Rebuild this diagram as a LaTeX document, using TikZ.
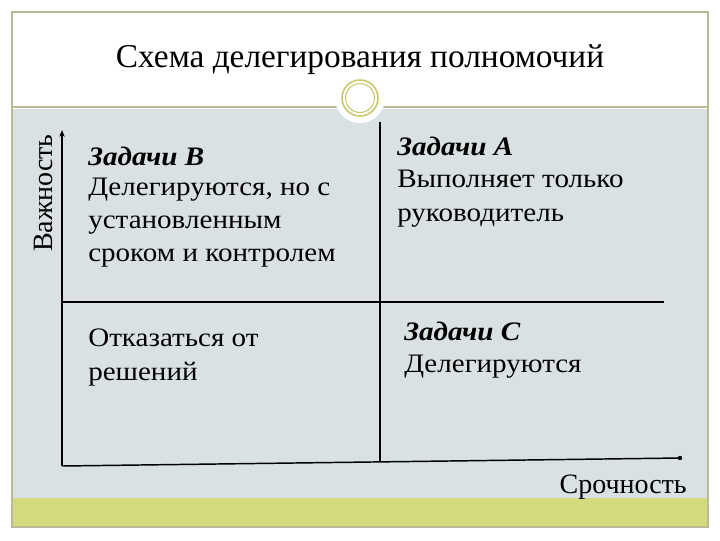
\documentclass[tikz,border=0pt]{standalone}
\usepackage{fontspec}
\usetikzlibrary{arrows.meta}
\setmainfont{Liberation Serif}
\newfontfamily\widefont[FakeStretch=1.09]{Liberation Serif}
\definecolor{bodybg}{HTML}{D9E1E3}
\definecolor{bandgreen}{HTML}{D4DB7E}
\definecolor{framecol}{HTML}{B9BA98}
\definecolor{ringcol}{HTML}{C9C86E}
\tikzset{
  body/.style={font=\widefont\fontsize{20}{25}\selectfont, anchor=north west, align=left, inner sep=0pt},
  axis/.style={line width=1.1pt, black},
  divider/.style={line width=0.8pt, black},
  axlabel/.style={font=\fontsize{21}{24}\selectfont, inner sep=0pt},
}
\begin{document}
\begin{tikzpicture}[x=0.75pt,y=-0.75pt]
\useasboundingbox (0,0) rectangle (720,540);
\fill[white] (0,0) rectangle (720,540);
% body background
\fill[bodybg] (13,109) rectangle (707,498);
\fill[bandgreen] (13,498) rectangle (707,527);
% frame
\draw[framecol, line width=0.8pt] (12,12) rectangle (708,527);
\draw[framecol, line width=0.8pt] (12,107) -- (708,107);
% circle ornament
\fill[white] (360,98) circle (25);
\draw[ringcol, line width=1.2pt, fill=white] (360,98) circle (18);
\draw[ringcol, line width=0.8pt] (360,98) circle (14.5);
% title
\node[font=\fontsize{25}{30}\selectfont, inner sep=0pt, anchor=base] (title) at (360,67) {Схема делегирования полномочий};
% axes
\coordinate (origin) at (62,466);
\coordinate (ytop) at (62,130);
\coordinate (xend) at (680,458);
\draw[axis, -{Stealth[length=5pt,width=4pt]}] (origin) -- (ytop);
\draw[axis] (origin) -- (xend);
\fill (xend) circle (2.2);
% dividers
\coordinate (vtop) at (380,122);
\coordinate (vbot) at (380,462);
\coordinate (hleft) at (62,302);
\coordinate (hright) at (664,302);
\draw[divider] (vtop) -- (vbot);
\draw[divider] (hleft) -- (hright);
% axis labels
\node[axlabel, rotate=90, anchor=base] (imp) at (52,193) {Важность};
\node[axlabel, anchor=base east] (urg) at (687,493) {Срочность};
% quadrant texts
\node[body] (qb) at (88,147) {\textbf{\textit{Задачи В}}\\[-3pt]Делегируются, но с\\установленным\\сроком и контролем};
\node[body] (qa) at (397,137) {\textbf{\textit{Задачи А}}\\[-1pt]Выполняет только\\руководитель};
\node[body] (qd) at (88,329) {Отказаться от\\решений};
\node[body] (qc) at (404,322) {\textbf{\textit{Задачи С}}\\[-1pt]Делегируются};
\end{tikzpicture}
\end{document}
